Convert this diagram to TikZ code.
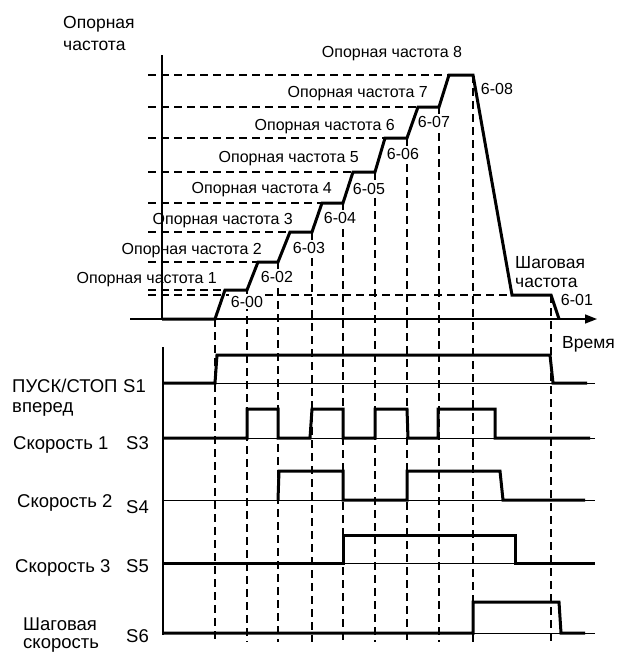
\documentclass[tikz,border=0pt]{standalone}
\usepackage{fontspec}
\setmainfont{Liberation Sans}
\usetikzlibrary{arrows.meta}
\begin{document}
\begin{tikzpicture}[x=1pt,y=-1pt,
  wave/.style={line width=3pt,line join=miter},
  sig/.style={line width=3pt},
  base/.style={line width=1pt},
  axis/.style={line width=1.6pt},
  guide/.style={line width=1.6pt,dash pattern=on 8pt off 5pt},
  toplbl/.style={font=\fontsize{16}{19}\selectfont,inner sep=0pt},
  parlbl/.style={font=\fontsize{16}{19}\selectfont,inner sep=1.5pt,fill=white},
  biglbl/.style={font=\fontsize{17.5}{20}\selectfont,inner sep=0pt},
  botlbl/.style={font=\fontsize{18.5}{21}\selectfont,inner sep=0pt}]
\useasboundingbox (0,0) rectangle (616,653);
% horizontal guides
\foreach \y/\xe in {290/222,262/258,232/290,203/322,172/353,138/385,107/418,75/449,295/512}
  \draw[guide] (148,\y) -- (\xe,\y);
% vertical guides
\foreach \x/\yt in {215/319,247/290,278/262,312/232,343/203,375/172,407/138,439/107,473/75,551/295}
  \draw[guide] (\x,\yt) -- (\x,642);
% axes
\draw[axis] (162,55) -- (162,319);
\draw[axis,-{Triangle[length=12pt,width=9pt]}] (130,319) -- (597,319);
\draw[axis] (163,347) -- (163,635);
% parameter labels (white background hides guides)
\node[parlbl,anchor=base] (p00) at (247,307) {6-00};
\node[parlbl,anchor=base] (p02) at (277,282) {6-02};
\node[parlbl,anchor=base] (p03) at (309,253) {6-03};
\node[parlbl,anchor=base] (p04) at (340,223) {6-04};
\node[parlbl,anchor=base] (p05) at (369,194) {6-05};
\node[parlbl,anchor=base] (p06) at (403,159) {6-06};
\node[parlbl,anchor=base] (p07) at (434,127) {6-07};
\node[parlbl,anchor=base] (p08) at (497,94) {6-08};
\node[parlbl,anchor=base] (p01) at (577,305) {6-01};
% waveform
\draw[wave] (162,319) -- (215,319) -- (225,290) -- (247,290) -- (258,262) -- (278,262)
  -- (290,232) -- (312,232) -- (322,203) -- (343,203) -- (353,172) -- (375,172)
  -- (385,138) -- (407,138) -- (418,107) -- (439,107) -- (449,75) -- (473,75)
  -- (512,295) -- (551,295) -- (559,319);
% signal baselines
\foreach \y in {383,438,500,563,633}
  \draw[base] (163,\y) -- (595,\y);
% S1
\draw[sig] (163,383) -- (215,383) -- (217,355) -- (550,355) -- (553,383) -- (587,383);
% S3
\draw[sig] (163,438) -- (247,438) -- (247,409) -- (278,409) -- (278,438) -- (310,438)
  -- (312,409) -- (343,409) -- (343,438) -- (375,438) -- (375,409) -- (407,409)
  -- (408,438) -- (438,438) -- (438,409) -- (495,409) -- (495,438) -- (590,438);
% S4
\draw[sig] (278,500) -- (279,471) -- (343,471) -- (343,500) -- (407,500) -- (407,471)
  -- (500,471) -- (503,500) -- (585,500);
% S5
\draw[sig] (163,563) -- (343,563) -- (343,535) -- (515,535) -- (515,563) -- (595,563);
% S6
\draw[sig] (163,633) -- (473,633) -- (473,602) -- (559,602) -- (561,633) -- (585,633);
% top labels
\node[biglbl,anchor=base west] (yl1) at (63,28) {Опорная};
\node[biglbl,anchor=base west] (yl2) at (63,50) {частота};
\node[toplbl,anchor=base east] (r1) at (217,283) {Опорная частота 1};
\node[toplbl,anchor=base east] (r2) at (262,254) {Опорная частота 2};
\node[toplbl,anchor=base east] (r3) at (293,224) {Опорная частота 3};
\node[toplbl,anchor=base east] (r4) at (332,193) {Опорная частота 4};
\node[toplbl,anchor=base east] (r5) at (359,162) {Опорная частота 5};
\node[toplbl,anchor=base east] (r6) at (395,130) {Опорная частота 6};
\node[toplbl,anchor=base east] (r7) at (428,97) {Опорная частота 7};
\node[toplbl,anchor=base] (r8) at (392,57) {Опорная частота 8};
\node[biglbl,anchor=base west] (j1) at (515,268) {Шаговая};
\node[biglbl,anchor=base west] (j2) at (515,287) {частота};
\node[biglbl,anchor=base west] (tm) at (562,348) {Время};
% bottom labels
\node[botlbl,anchor=base west] (l1) at (12,392) {ПУСК/СТОП};
\node[botlbl,anchor=base west] (l1b) at (12,412) {вперед};
\node[botlbl,anchor=base west] (s1) at (123,392) {S1};
\node[botlbl,anchor=base west] (l3) at (13,449) {Скорость 1};
\node[botlbl,anchor=base west] (s3) at (126,449) {S3};
\node[botlbl,anchor=base west] (l4) at (17,507) {Скорость 2};
\node[botlbl,anchor=base west] (s4) at (126,513) {S4};
\node[botlbl,anchor=base west] (l5) at (15,572) {Скорость 3};
\node[botlbl,anchor=base west] (s5) at (126,572) {S5};
\node[botlbl,anchor=base west] (l6) at (23,630) {Шаговая};
\node[botlbl,anchor=base west] (l6b) at (23,648) {скорость};
\node[botlbl,anchor=base west] (s6) at (126,642) {S6};
\end{tikzpicture}
\end{document}
